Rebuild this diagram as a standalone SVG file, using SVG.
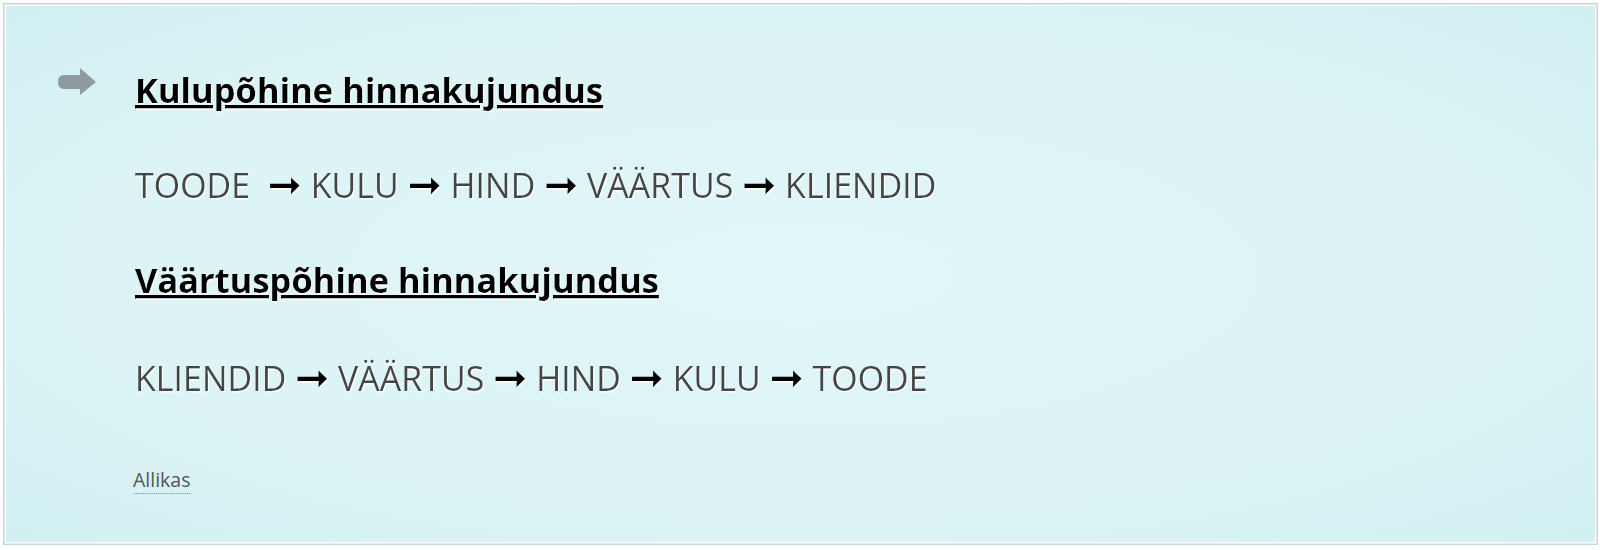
<svg xmlns="http://www.w3.org/2000/svg" width="1600" height="550" viewBox="0 0 1600 550">
<defs>
<radialGradient id="bg" cx="0.5" cy="0.5" r="0.75">
<stop offset="0" stop-color="#e1f6f8"/>
<stop offset="0.6" stop-color="#dcf4f6"/>
<stop offset="1" stop-color="#d0eff1"/>
</radialGradient>
<filter id="sh" x="-5%" y="-20%" width="110%" height="140%">
<feDropShadow dx="1" dy="1.5" stdDeviation="0.7" flood-color="#ffffff" flood-opacity="1"/>
</filter>
</defs>
<style>
.title{font-family:"Open Sans","Liberation Sans",sans-serif;font-weight:bold;font-size:34.5px;fill:#000;text-decoration:underline;}
.flow{font-family:"Open Sans","Liberation Sans",sans-serif;font-size:34px;fill:#444;}
.arr{font-family:"DejaVu Sans",sans-serif;font-weight:bold;fill:#000;font-size:39px;}
.src{font-family:"Open Sans","Liberation Sans",sans-serif;font-size:19.5px;fill:#555;}
</style>
<rect x="0" y="0" width="1600" height="550" fill="#ffffff"/>
<rect x="3" y="3" width="1595" height="542" fill="#c5d6d5"/>
<rect x="4.5" y="4.5" width="1592" height="539" fill="#ffffff"/>
<rect x="6" y="6" width="1589" height="536" fill="url(#bg)"/>
<g id="icon">
<path d="M64,75 L80,75 L80,68 L96,82 L80,95 L80,89 L64,89 Q58,89 58,82 Q58,75 64,75 Z" fill="#8f9b9e"/>
</g>
<g id="heading1" filter="url(#sh)">
<text class="title" x="135" y="103">Kulupõhine hinnakujundus</text>
</g>
<g id="flow1" filter="url(#sh)">
<text class="flow" x="135" y="198" xml:space="preserve">TOODE  <tspan class="arr" textLength="34" lengthAdjust="spacingAndGlyphs">➞</tspan> KULU <tspan class="arr" textLength="34" lengthAdjust="spacingAndGlyphs">➞</tspan> HIND <tspan class="arr" textLength="34" lengthAdjust="spacingAndGlyphs">➞</tspan> VÄÄRTUS <tspan class="arr" textLength="34" lengthAdjust="spacingAndGlyphs">➞</tspan> KLIENDID</text>
</g>
<g id="heading2" filter="url(#sh)">
<text class="title" x="135" y="293">Väärtuspõhine hinnakujundus</text>
</g>
<g id="flow2" filter="url(#sh)">
<text class="flow" x="135" y="390.5" xml:space="preserve">KLIENDID <tspan class="arr" textLength="34" lengthAdjust="spacingAndGlyphs">➞</tspan> VÄÄRTUS <tspan class="arr" textLength="34" lengthAdjust="spacingAndGlyphs">➞</tspan> HIND <tspan class="arr" textLength="34" lengthAdjust="spacingAndGlyphs">➞</tspan> KULU <tspan class="arr" textLength="34" lengthAdjust="spacingAndGlyphs">➞</tspan> TOODE</text>
</g>
<g id="source">
<text class="src" x="133" y="487">Allikas</text>
<line x1="134" y1="493.5" x2="191" y2="493.5" stroke="#888" stroke-width="1.2" stroke-dasharray="1.2,1"/>
</g>
</svg>
